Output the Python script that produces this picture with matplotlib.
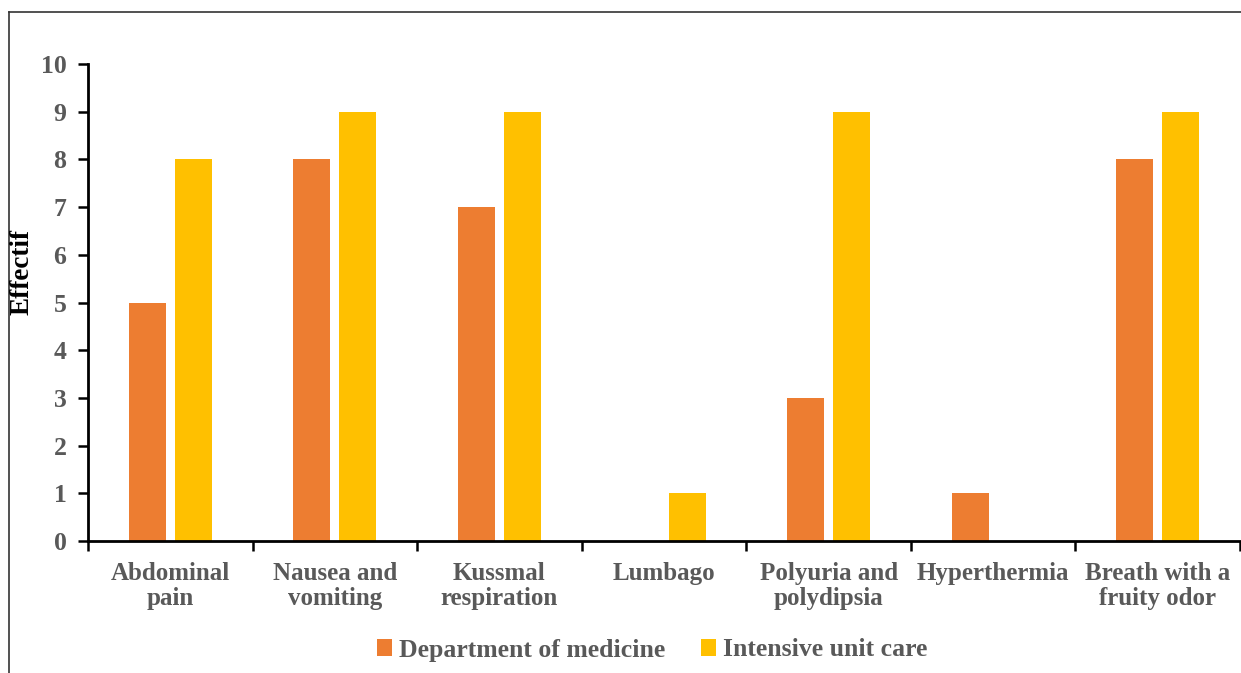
import matplotlib
matplotlib.use("Agg")
import matplotlib.pyplot as plt
from matplotlib.lines import Line2D
import numpy as np

categories = ["Abdominal\npain", "Nausea and\nvomiting", "Kussmal\nrespiration", "Lumbago",
              "Polyuria and\npolydipsia", "Hyperthermia", "Breath with a\nfruity odor"]
dept_medicine = [5, 8, 7, 0, 3, 1, 8]
icu = [8, 9, 9, 1, 9, 0, 9]
series_names = ["Department of medicine", "Intensive unit care"]
colors = ["#ED7D31", "#FFC000"]

plt.rcParams['font.family'] = ['Liberation Serif', 'DejaVu Serif']
plt.rcParams['font.weight'] = 'bold'

W, H = 1241, 673
fig = plt.figure(figsize=(W/100, H/100), dpi=100)
ax = fig.add_axes([88/W, 1-541/H, (1240-88)/W, (541-64)/H])

x = np.arange(len(categories))
bw = 0.225
off = 0.14
ax.bar(x - off, dept_medicine, bw, color=colors[0], label=series_names[0])
ax.bar(x + off, icu, bw, color=colors[1], label=series_names[1])

ax.set_xlim(-0.5, len(categories) - 0.5)
ax.set_ylim(0, 10)
ax.set_yticks(range(0, 11))
ax.set_xticks(x)
ax.set_xticklabels(categories, color="#595959", fontsize=18, fontweight='bold', linespacing=1.1)
ax.set_xticks(np.arange(-0.5, len(categories)), minor=True)
ax.tick_params(axis='x', which='major', length=0, pad=15)
ax.tick_params(axis='x', which='minor', length=7, width=1.8, direction='out')
ax.tick_params(axis='y', length=7, width=1.8, direction='out', labelsize=18.5,
               labelcolor="#595959", pad=8.5)
for lab in ax.get_yticklabels():
    lab.set_fontweight('bold')

for s in ['top', 'right']:
    ax.spines[s].set_visible(False)
for s in ['left', 'bottom']:
    ax.spines[s].set_linewidth(2)
    ax.spines[s].set_color('black')

fig.text(22/W, 1-272/H, "Effectif", rotation=90, ha='center', va='center',
         fontsize=19.5, fontweight='bold', color='black')

leg = fig.legend(loc='center', bbox_to_anchor=(652/W, 1-650/H), ncol=2, frameon=False,
                 prop={'size': 18.5, 'weight': 'bold'}, handlelength=0.6, handleheight=0.6,
                 handletextpad=0.25, columnspacing=1.4)
for t in leg.get_texts():
    t.set_color("#595959")

# outer frame lines
fig.add_artist(Line2D([9/W, 9/W], [0, 1-12/H], transform=fig.transFigure, color='#333333', lw=1.2))
fig.add_artist(Line2D([9/W, 1], [1-12/H, 1-12/H], transform=fig.transFigure, color='#333333', lw=1.2))

fig.savefig("out.png", dpi=100)
